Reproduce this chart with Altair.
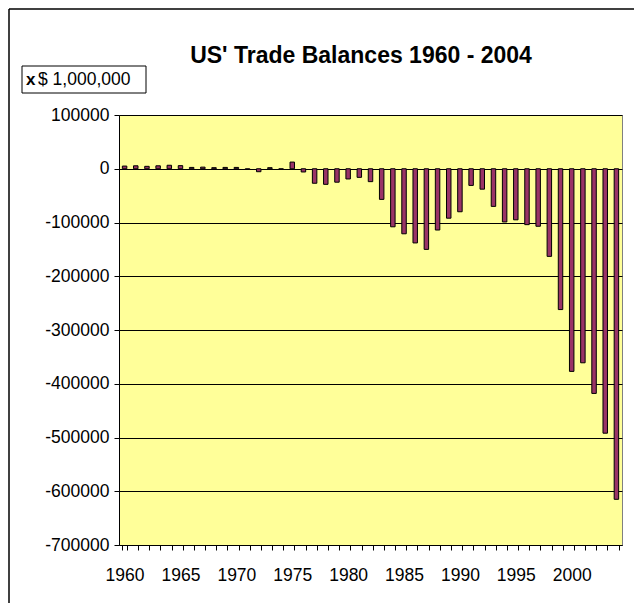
import altair as alt
import pandas as pd

years = list(range(1960, 2005))
balances = [5000, 5500, 4500, 5500, 6500, 5800, 2500, 3000, 2000, 2500,
            2500, -1300, -5500, 2000, -1000, 12400, -6000, -27000, -29000, -25000,
            -19000, -16000, -24000, -57000, -108000, -121000, -138000, -150000, -114000, -92000,
            -80000, -31000, -38000, -70000, -99000, -95000, -104000, -107000, -163000, -262000,
            -377000, -361000, -418000, -492000, -615000]
y_ticks = [100000, 0, -100000, -200000, -300000, -400000, -500000, -600000, -700000]
title_text = "US' Trade Balances 1960 - 2004"
unit_bold = "x"
unit_text = "$ 1,000,000"

df = pd.DataFrame({"year": years, "balance": balances})

W, H = 503, 430
FONT = "Liberation Sans"

x_enc = alt.X("year:O", title=None,
              scale=alt.Scale(paddingInner=0.6, paddingOuter=0.3),
              axis=alt.Axis(tickBand="extent", labelExpr="datum.value % 5 == 0 ? datum.value + '' : ''",
                            labelAngle=0, tickSize=5, labelPadding=16, labelFontSize=17.5,
                            labelFont=FONT, domainColor="black", tickColor="black",
                            labelColor="black", grid=False))

bars = alt.Chart(df).mark_bar(color="#993366", stroke="black", strokeWidth=1).encode(
    x=x_enc,
    y=alt.Y("balance:Q", title=None,
            scale=alt.Scale(domain=[-700000, 100000], nice=False),
            axis=alt.Axis(values=y_ticks, labelExpr="datum.value + ''", tickSize=5, labelPadding=5,
                          labelFontSize=17.5, labelFont=FONT, domainColor="black",
                          tickColor="black", labelColor="black", grid=True,
                          gridColor="black", gridOpacity=1, gridWidth=1)),
    y2=alt.datum(0),
)

one = pd.DataFrame({"a": [0]})
title = alt.Chart(one).mark_text(text=title_text, font=FONT, fontSize=23, fontWeight="bold",
                                 color="black", align="center", baseline="alphabetic").encode(
    x=alt.value(242), y=alt.value(-52))
box = alt.Chart(one).mark_rect(fill="white", stroke="black", strokeWidth=1).encode(
    x=alt.value(-97), x2=alt.value(27), y=alt.value(-49), y2=alt.value(-22))
unit1 = alt.Chart(one).mark_text(text=unit_bold, font=FONT, fontSize=17, fontWeight="bold",
                                 color="black", align="left", baseline="middle").encode(
    x=alt.value(-93), y=alt.value(-35))
unit2 = alt.Chart(one).mark_text(text=unit_text, font=FONT, fontSize=17.5,
                                 color="black", align="left", baseline="middle").encode(
    x=alt.value(-81), y=alt.value(-35))
frame_left = alt.Chart(one).mark_rule(color="black", strokeWidth=1.5).encode(
    x=alt.value(-110), y=alt.value(-106), y2=alt.value(500))
frame_top = alt.Chart(one).mark_rule(color="black", strokeWidth=1.5).encode(
    x=alt.value(-110), x2=alt.value(520), y=alt.value(-106))

chart = alt.layer(bars, title, box, unit1, unit2, frame_left, frame_top).properties(
    width=W, height=H,
    autosize=alt.AutoSizeParams(type="none"),
    padding={"left": 111, "top": 107, "right": 12, "bottom": 58},
    background="white",
).configure_view(fill="#FFFF99", stroke="#808080", strokeWidth=1)

chart.save("out.html", embed_options={"renderer": "svg", "actions": False})
